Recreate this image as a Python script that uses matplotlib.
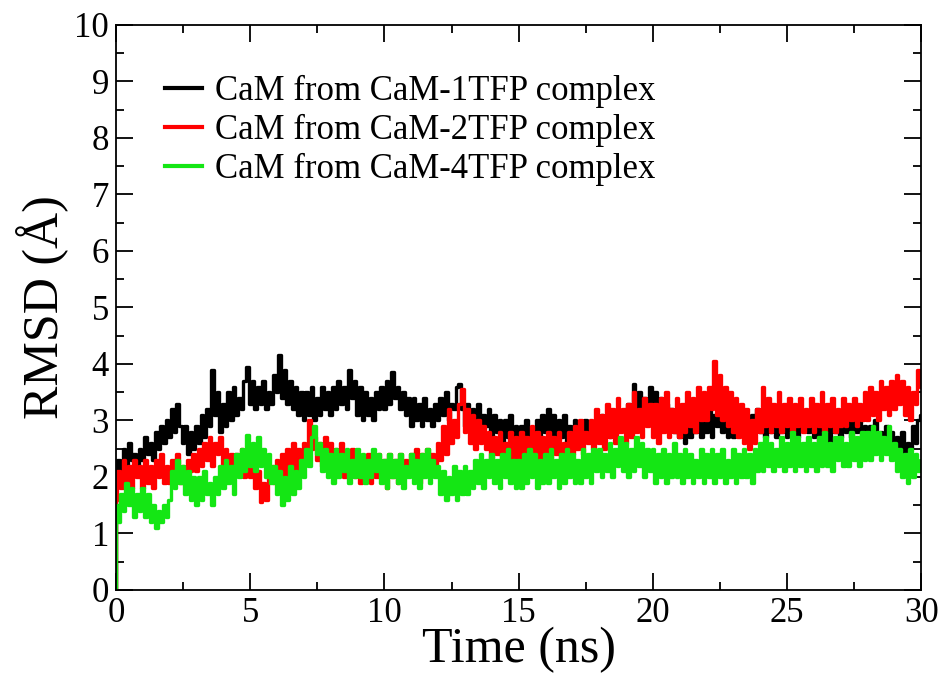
import numpy as np
import matplotlib
matplotlib.use("Agg")
import matplotlib.pyplot as plt

# RMSD traces (Angstrom), one value every 0.1 ns from 0 to 30 ns
step = 0.1
rmsd_1tfp = [
    1.9, 2.3, 2.1, 2.5, 2.2, 2.6, 2.3, 2.4, 2.1, 2.5,
    2.3, 2.7, 2.4, 2.6, 2.3, 2.8, 2.5, 2.9, 2.6, 3.0,
    2.7, 3.2, 2.8, 3.3, 2.9, 2.6, 2.9, 2.4, 2.8, 2.5,
    2.9, 2.6, 3.1, 2.7, 3.2, 2.9, 3.9, 3.1, 3.5, 2.8,
    3.3, 2.9, 3.5, 3.0, 3.6, 3.1, 3.4, 3.2, 3.7, 3.95,
    3.3, 3.7, 3.2, 3.6, 3.3, 3.7, 3.2, 3.5, 3.3, 3.8,
    3.5, 4.15, 3.4, 3.9, 3.3, 3.7, 3.2, 3.6, 3.1, 3.5,
    3.0, 3.5, 3.1, 3.6, 3.0, 3.4, 3.1, 3.6, 3.2, 3.5,
    3.1, 3.6, 3.2, 3.7, 3.3, 3.6, 3.2, 3.9, 3.4, 3.7,
    3.1, 3.6, 3.0, 3.5, 3.1, 3.4, 3.0, 3.5, 3.2, 3.6,
    3.2, 3.7, 3.3, 3.85, 3.4, 3.6, 3.2, 3.5, 3.1, 3.4,
    2.9, 3.4, 3.0, 3.3, 2.9, 3.4, 3.0, 3.2, 2.9, 3.3,
    3.0, 3.4, 3.1, 3.5, 3.0, 3.3, 3.2, 3.6, 3.65, 3.2,
    2.9, 3.3, 2.8, 3.2, 2.9, 3.3, 2.8, 3.1, 2.9, 3.2,
    2.7, 3.1, 2.8, 3.0, 2.6, 3.0, 2.7, 3.1, 2.6, 2.9,
    2.5, 2.9, 2.6, 3.0, 2.5, 2.8, 2.6, 3.0, 2.7, 3.1,
    2.8, 3.2, 2.7, 3.1, 2.6, 3.0, 2.7, 3.1, 2.6, 2.9,
    2.6, 3.0, 2.7, 2.9, 2.6, 3.0, 2.7, 2.9, 2.6, 3.0,
    2.7, 3.1, 2.8, 3.0, 2.7, 3.1, 2.8, 3.2, 2.9, 3.1,
    2.9, 3.3, 3.0, 3.65, 3.1, 3.5, 3.0, 3.4, 3.1, 3.6,
    3.0, 3.5, 3.1, 3.4, 2.9, 3.3, 3.0, 3.2, 2.8, 3.1,
    2.7, 3.1, 2.6, 3.0, 2.7, 3.1, 2.8, 3.0, 2.7, 3.2,
    2.8, 3.2, 2.7, 3.1, 2.9, 3.2, 2.8, 3.0, 2.7, 3.1,
    2.7, 3.0, 2.8, 3.1, 2.7, 3.0, 2.8, 3.1, 2.9, 3.2,
    2.8, 3.1, 2.7, 3.2, 2.8, 3.0, 2.7, 3.1, 2.8, 3.2,
    2.7, 3.1, 2.8, 3.2, 2.7, 3.0, 2.9, 3.1, 2.8, 3.2,
    2.7, 3.1, 2.6, 3.0, 2.7, 3.1, 2.6, 3.0, 2.8, 3.1,
    2.7, 3.0, 2.8, 3.1, 2.7, 3.0, 2.8, 3.1, 2.7, 2.9,
    2.6, 2.9, 2.5, 3.0, 2.6, 2.8, 2.5, 2.9, 2.6, 2.8,
    2.4, 2.7, 2.3, 2.8, 2.4, 2.6, 2.5, 2.9, 2.6, 3.0,
    3.1]
rmsd_2tfp = [
    1.6, 2.1, 1.8, 2.3, 1.9, 2.2, 1.8, 2.3, 2.0, 2.2,
    1.8, 2.3, 1.9, 2.2, 1.8, 2.3, 2.0, 2.4, 1.9, 2.2,
    1.9, 2.3, 2.0, 2.4, 1.9, 2.2, 2.0, 2.3, 2.1, 2.4,
    2.1, 2.5, 2.2, 2.6, 2.3, 2.7, 2.2, 2.6, 2.4, 2.7,
    2.2, 2.5, 2.1, 2.4, 2.0, 2.4, 2.1, 2.5, 2.0, 2.3,
    2.0, 2.3, 1.8, 2.1, 1.55, 1.9, 1.6, 2.0, 2.2, 1.9,
    2.3, 1.9, 2.4, 2.0, 2.5, 2.2, 2.6, 2.1, 2.5, 2.3,
    2.6, 2.4, 3.0, 2.5, 2.7, 2.3, 2.6, 2.2, 2.7, 2.3,
    2.6, 2.1, 2.5, 2.2, 2.6, 2.0, 2.4, 2.1, 2.5, 2.0,
    2.4, 1.9, 2.3, 2.0, 2.4, 1.9, 2.2, 2.0, 2.4, 2.1,
    2.3, 1.8, 2.4, 2.0, 2.3, 1.9, 2.4, 2.0, 2.3, 2.1,
    2.4, 2.0, 2.5, 1.9, 2.4, 2.1, 2.5, 2.0, 2.4, 2.2,
    2.6, 2.3, 2.9, 2.4, 3.2, 2.6, 3.0, 2.7, 3.3, 3.55,
    2.8, 3.2, 2.6, 3.1, 2.5, 3.0, 2.6, 2.9, 2.5, 2.8,
    2.3, 2.7, 2.4, 2.8, 2.3, 2.6, 2.4, 2.8, 2.3, 2.7,
    2.3, 2.8, 2.4, 2.7, 2.3, 2.9, 2.4, 2.8, 2.3, 2.7,
    2.4, 2.8, 2.3, 2.7, 2.4, 2.8, 2.3, 2.6, 2.5, 2.8,
    2.4, 2.9, 2.5, 3.0, 2.4, 2.8, 2.6, 3.0, 2.5, 3.2,
    2.6, 3.1, 2.5, 3.3, 2.7, 3.2, 2.6, 3.4, 2.8, 3.2,
    2.6, 3.3, 2.7, 3.5, 2.8, 3.2, 2.7, 3.4, 2.9, 3.3,
    2.7, 3.3, 2.6, 3.4, 2.8, 3.5, 2.7, 3.2, 2.8, 3.4,
    2.7, 3.3, 2.8, 3.5, 2.9, 3.4, 2.8, 3.6, 3.0, 3.5,
    3.0, 3.6, 3.2, 4.05, 3.1, 3.8, 3.0, 3.6, 2.9, 3.5,
    2.8, 3.4, 2.7, 3.3, 2.6, 3.2, 2.5, 3.0, 2.6, 3.2,
    2.8, 3.6, 2.9, 3.4, 2.8, 3.3, 2.9, 3.5, 2.8, 3.3,
    2.9, 3.4, 2.8, 3.3, 2.9, 3.4, 2.8, 3.2, 2.9, 3.4,
    2.8, 3.3, 2.9, 3.5, 2.8, 3.3, 2.9, 3.4, 2.8, 3.2,
    2.9, 3.4, 2.9, 3.3, 3.0, 3.4, 2.9, 3.3, 3.0, 3.5,
    3.0, 3.6, 3.1, 3.5, 3.0, 3.7, 3.2, 3.6, 3.1, 3.7,
    3.2, 3.8, 3.3, 3.7, 3.1, 3.6, 3.0, 3.5, 3.3, 3.9,
    3.6]
rmsd_4tfp = [
    1.5, 1.2, 1.7, 1.4, 1.9, 1.5, 1.8, 1.3, 1.7, 1.4,
    1.8, 1.3, 1.7, 1.2, 1.5, 1.1, 1.4, 1.2, 1.5, 1.3,
    1.6, 2.1, 1.8, 2.3, 1.9, 2.2, 1.7, 2.1, 1.6, 2.0,
    1.5, 2.0, 1.6, 2.1, 1.7, 1.9, 1.5, 2.0, 1.7, 2.2,
    1.8, 2.3, 1.9, 2.2, 1.7, 2.4, 2.0, 2.5, 2.1, 2.75,
    2.2, 2.6, 2.1, 2.7, 2.2, 2.5, 2.0, 2.4, 1.9, 2.2,
    1.7, 2.1, 1.5, 2.0, 1.6, 2.2, 1.7, 2.1, 1.8, 2.3,
    2.0, 2.5, 2.2, 2.7, 2.9, 2.4, 2.6, 2.1, 2.5, 2.0,
    2.4, 1.9, 2.5, 2.0, 2.4, 2.1, 2.5, 1.9, 2.3, 2.0,
    2.5, 2.0, 2.4, 1.9, 2.3, 2.0, 2.5, 2.1, 2.4, 1.9,
    2.3, 1.8, 2.4, 2.0, 2.3, 1.9, 2.4, 1.8, 2.2, 2.0,
    2.4, 1.9, 2.3, 1.8, 2.4, 2.0, 2.5, 1.9, 2.3, 2.0,
    2.2, 1.7, 2.1, 1.6, 2.0, 1.7, 2.2, 1.6, 2.1, 1.7,
    2.2, 1.7, 2.1, 1.8, 2.3, 1.9, 2.4, 1.8, 2.3, 2.0,
    2.4, 1.9, 2.3, 1.8, 2.4, 2.0, 2.5, 1.9, 2.3, 1.8,
    2.3, 1.8, 2.4, 1.9, 2.5, 2.0, 2.4, 1.8, 2.3, 1.9,
    2.4, 1.9, 2.5, 2.0, 2.3, 1.8, 2.4, 1.9, 2.5, 2.0,
    2.4, 1.9, 2.3, 1.9, 2.5, 2.0, 2.4, 1.9, 2.5, 2.1,
    2.5, 2.0, 2.4, 2.1, 2.6, 2.0, 2.5, 2.2, 2.7, 2.1,
    2.6, 2.0, 2.5, 2.1, 2.7, 2.2, 2.6, 2.0, 2.5, 2.1,
    2.5, 1.9, 2.4, 2.0, 2.5, 1.9, 2.4, 2.0, 2.6, 2.0,
    2.4, 1.9, 2.5, 2.0, 2.4, 1.9, 2.3, 2.0, 2.5, 1.9,
    2.4, 2.0, 2.5, 1.9, 2.4, 2.0, 2.5, 1.9, 2.3, 2.0,
    2.5, 1.9, 2.4, 2.0, 2.5, 2.0, 2.4, 1.9, 2.5, 2.1,
    2.6, 2.1, 2.7, 2.2, 2.6, 2.1, 2.5, 2.2, 2.7, 2.1,
    2.6, 2.2, 2.8, 2.1, 2.7, 2.2, 2.6, 2.1, 2.7, 2.2,
    2.6, 2.1, 2.7, 2.2, 2.8, 2.2, 2.6, 2.1, 2.7, 2.3,
    2.7, 2.2, 2.6, 2.2, 2.8, 2.3, 2.7, 2.2, 2.8, 2.3,
    2.8, 2.3, 2.9, 2.4, 2.8, 2.3, 2.7, 2.4, 2.9, 2.3,
    2.6, 2.1, 2.5, 2.0, 2.4, 1.9, 2.5, 2.0, 2.4, 2.1,
    2.3]
labels = ["CaM from CaM-1TFP complex",
          "CaM from CaM-2TFP complex",
          "CaM from CaM-4TFP complex"]
colors = ["black", "#ff0000", "#14e614"]

plt.rcParams['font.family'] = ['Liberation Serif', 'DejaVu Serif']
fig = plt.figure(figsize=(9.43, 6.75), dpi=100)
ax = fig.add_axes([0.123, 0.126, 0.854, 0.837])

for y, lab, c in zip([rmsd_1tfp, rmsd_2tfp, rmsd_4tfp], labels, colors):
    t = np.arange(len(y)) * step
    # every trajectory starts from RMSD 0 at t = 0
    ax.plot(np.r_[0.0, t], np.r_[0.0, y], color=c, lw=2.4,
            drawstyle='steps-mid', label=lab)

ax.set_xlim(0, 30)
ax.set_ylim(0, 10)
ax.set_xticks(np.arange(0, 31, 5))
ax.set_xticks(np.arange(0, 31, 2.5), minor=True)
ax.set_yticks(np.arange(0, 11, 1))
ax.set_yticks(np.arange(0, 10.1, 0.5), minor=True)
ax.tick_params(which='both', direction='in', top=True, right=True, width=1.3,
               labelsize=25, pad=5)
ax.tick_params(which='major', length=12)
ax.tick_params(which='minor', length=6)
for s in ax.spines.values():
    s.set_linewidth(1.3)

ax.set_xlabel("Time (ns)", fontsize=36, labelpad=-2)
ax.set_ylabel("RMSD (Å)", fontsize=36, labelpad=4)

leg = ax.legend(loc='upper left', bbox_to_anchor=(0.061, 0.912), frameon=False,
                fontsize=25, handlelength=1.05, handletextpad=0.4,
                labelspacing=0.18, borderpad=0, borderaxespad=0)
for h in leg.get_lines():
    h.set_linewidth(3)
    h.set_drawstyle('default')

fig.savefig("out.png", dpi=100)
